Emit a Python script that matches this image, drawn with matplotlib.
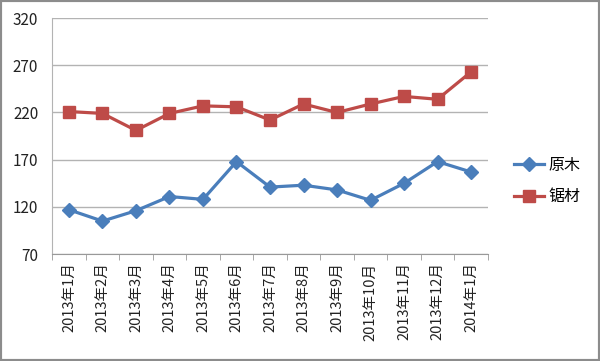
import matplotlib
matplotlib.use('Agg')
import matplotlib.pyplot as plt
from matplotlib.patches import Rectangle
import numpy as np

plt.rcParams['font.family'] = ['Noto Sans CJK SC', 'DejaVu Sans']

''' Chart data '''
months = ['2013年1月', '2013年2月', '2013年3月', '2013年4月', '2013年5月',
          '2013年6月', '2013年7月', '2013年8月', '2013年9月', '2013年10月',
          '2013年11月', '2013年12月', '2014年1月']
logs = [117, 105, 116, 131, 128, 168, 141, 143, 138, 127, 145, 168, 157]
lumber = [221, 219, 201, 219, 227, 226, 212, 229, 220, 229, 237, 234, 263]
yticks = [70, 120, 170, 220, 270, 320]

''' Figure setup '''
fig = plt.figure(figsize=(6, 3.61), dpi=100)
fig.patches.append(Rectangle((0, 0), 1, 1, transform=fig.transFigure,
                             fill=False, edgecolor='#8c8c8c', linewidth=3))
ax = fig.add_axes([0.087, 0.296, 0.726, 0.654])

x = np.arange(len(months))
ax.plot(x, logs, color='#4a7ebb', linewidth=2.3, marker='D', markersize=7,
        label='原木', zorder=3)
ax.plot(x, lumber, color='#be4b48', linewidth=2.3, marker='s', markersize=8,
        label='锯材', zorder=3)

# Axes and grid
ax.set_xlim(-0.5, len(months) - 0.5)
ax.set_ylim(70, 320)
ax.set_yticks(yticks)
ax.set_yticklabels([str(v) for v in yticks], fontsize=11, color='#222222')
ax.yaxis.grid(True, color='#b3b3b3', linewidth=1)
ax.set_axisbelow(True)
ax.tick_params(axis='y', length=0, pad=10)

ax.set_xticks(x)
ax.set_xticklabels(months, rotation=90, fontsize=10.5, color='#222222',
                   fontweight='medium')
ax.set_xticks(np.arange(len(months) + 1) - 0.5, minor=True)
ax.tick_params(axis='x', which='major', length=0, pad=6)
ax.tick_params(axis='x', which='minor', length=4, color='#999999')

for side in ['top', 'right']:
    ax.spines[side].set_visible(False)
ax.spines['left'].set_color('#b3b3b3')
ax.spines['bottom'].set_color('#999999')

# Legend
ax.legend(loc='center left', bbox_to_anchor=(1.045, 0.31), frameon=False,
          fontsize=11.5, handlelength=1.9, handletextpad=0.3,
          labelspacing=0.9, borderaxespad=0)

plt.savefig('out.png', dpi=100)
